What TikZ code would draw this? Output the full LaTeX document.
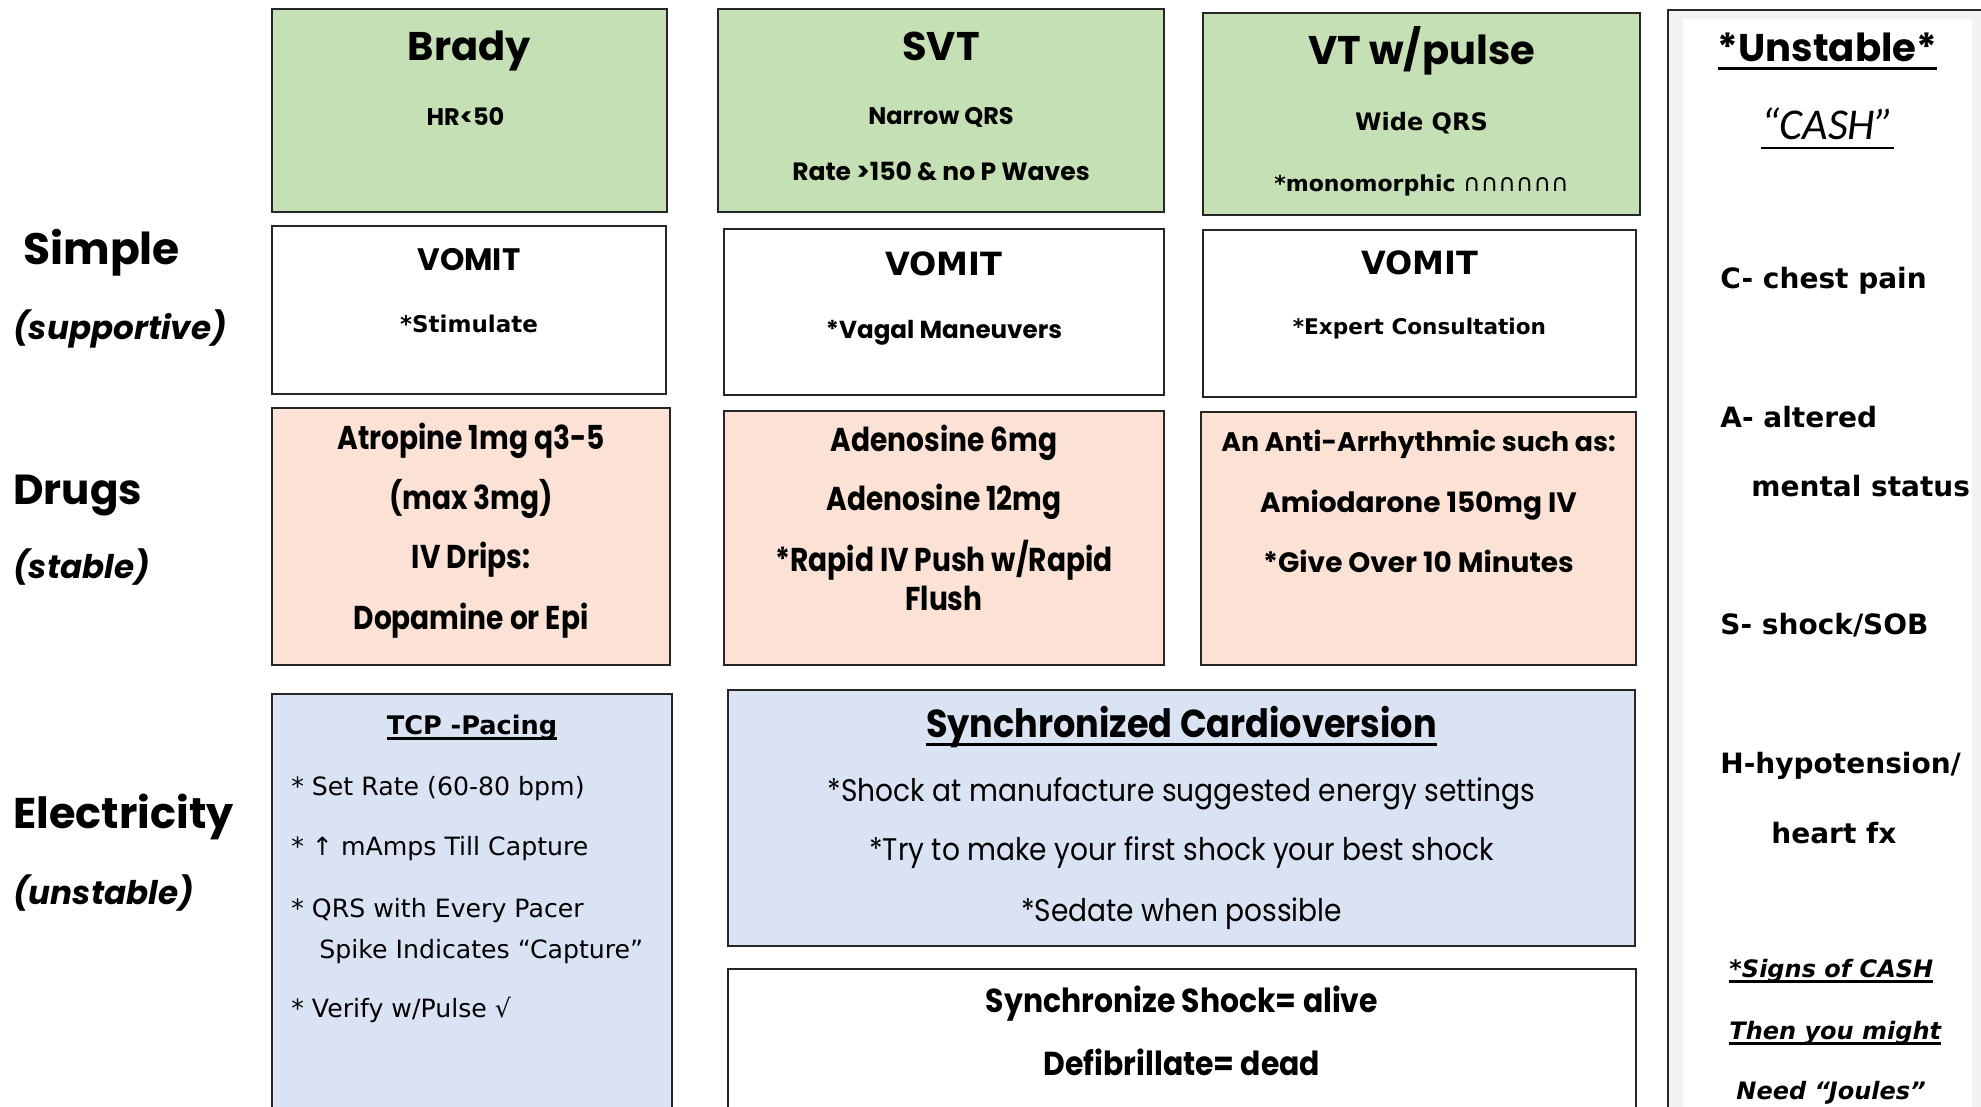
\documentclass[tikz,border=0pt]{standalone}
\usepackage{fontspec}
\usepackage{tikz}
\usetikzlibrary{positioning,fit,calc}
\setmainfont{Poppins}
\newfontfamily\gothic{Poppins}
\newfontfamily\gothicn[FakeStretch=0.85]{Poppins}
\newfontfamily\gothicm[FakeStretch=0.9]{Poppins}
\newfontfamily\comic{DejaVu Sans}
\newfontfamily\calib{Carlito}
\newcommand{\fsz}[1]{\fontsize{#1}{#1}\selectfont}
\newsavebox{\ulbox}
\newcommand{\ulbar}[1]{\sbox{\ulbox}{#1}\rlap{\rule[-0.22em]{\wd\ulbox}{1.3pt}}\usebox{\ulbox}}
\definecolor{rhythm}{RGB}{197,224,180}
\definecolor{drug}{RGB}{251,226,213}
\definecolor{zap}{RGB}{218,227,243}
\definecolor{panel}{RGB}{242,242,242}

\begin{document}
\begin{tikzpicture}[x=0.5pt,y=-0.5pt,
    box/.style={draw=black!85,line width=1pt,inner sep=0pt},
    txt/.style={inner sep=0pt,anchor=mid},
    lbl/.style={inner sep=0pt,anchor=mid west},
    gb/.style={font=\gothic\bfseries\fsz{#1},yshift=-0.22*#1},
    gi/.style={font=\gothic\bfseries\itshape\fsz{#1},yshift=-0.22*#1},
    cb/.style={font=\comic\bfseries\fsz{#1},yshift=-0.22*#1},
    cr/.style={font=\comic\fsz{#1},yshift=-0.22*#1},
    ci/.style={font=\comic\bfseries\itshape\fsz{#1},yshift=-0.22*#1},
    nb/.style={font=\gothicn\bfseries\fsz{#1},yshift=-0.22*#1},
    mb/.style={font=\gothicm\bfseries\fsz{#1},yshift=-0.22*#1},
    mr/.style={font=\gothicm\fsz{#1},yshift=-0.22*#1},
    cash/.style={lbl,cb=14pt}]
  \useasboundingbox (0,0) rectangle (1981,1107);
  \clip (0,0) rectangle (1981,1107);

  % row labels
  \node[lbl,gb=22pt] (simple) at (23,249) {Simple};
  \node[lbl,gi=16.3pt] (simpleS) at (13,327) {(supportive)};
  \node[lbl,gb=21pt] (drugs) at (13,490) {Drugs};
  \node[lbl,gi=16.3pt] (drugsS) at (13,566) {(stable)};
  \node[lbl,gb=21.5pt] (elec) at (13,814) {Electricity};
  \node[lbl,gi=16.3pt] (elecS) at (13,892) {(unstable)};

  % rhythms
  \node[box,fill=rhythm,fit={(272,9) (667,212)}] (brady) {};
  \node[txt,gb=20pt] (bradyT) at ($(brady.north)+(0,38)$) {Brady};
  \node[txt,gb=12pt] (bradyA) at ($(brady.north)+(-4,107)$) {HR<50};

  \node[box,fill=rhythm,fit={(718,9) (1164,212)}] (svt) {};
  \node[txt,gb=20pt] (svtT) at ($(svt.north)+(0,38)$) {SVT};
  \node[txt,gb=12pt] (svtA) at ($(svt.north)+(0,106)$) {Narrow QRS};
  \node[txt,gb=12.5pt] (svtB) at ($(svt.north)+(0,162)$) {Rate >150 \& no P Waves};

  \node[box,fill=rhythm,fit={(1203,13) (1640,215)}] (vt) {};
  \node[txt,gb=20pt] (vtT) at ($(vt.north)+(0,38)$) {VT w/pulse};
  \node[txt,cb=12pt] (vtA) at ($(vt.north)+(0,108)$) {Wide QRS};
  \node[txt,cb=11pt] (vtB) at ($(vt.north)+(0,169)$) {*monomorphic {\mdseries\fsz{12pt}∩∩∩∩∩∩}};

  % simple
  \node[box,fill=white,fit={(272,226) (666,394)}] (vomB) {};
  \node[txt,gb=15.5pt] (vomBT) at ($(vomB.north)+(0,33)$) {VOMIT};
  \node[txt,cb=11.5pt] (vomBA) at ($(vomB.north)+(0,97)$) {*Stimulate};

  \node[box,fill=white,fit={(724,229) (1164,395)}] (vomS) {};
  \node[txt,cb=16pt] (vomST) at ($(vomS.north)+(0,35)$) {VOMIT};
  \node[txt,gb=12.3pt] (vomSA) at ($(vomS.north)+(0,100)$) {*Vagal Maneuvers};

  \node[box,fill=white,fit={(1203,230) (1636,397)}] (vomV) {};
  \node[txt,cb=16pt] (vomVT) at ($(vomV.north)+(0,33)$) {VOMIT};
  \node[txt,cb=10.8pt] (vomVA) at ($(vomV.north)+(0,95)$) {*Expert Consultation};

  % drugs
  \node[box,fill=drug,fit={(272,408) (670,665)}] (atro) {};
  \node[txt,nb=16.5pt] (atroA) at ($(atro.north)+(0,30)$) {Atropine 1mg q3-5};
  \node[txt,nb=16.5pt] (atroB) at ($(atro.north)+(0,90)$) {(max 3mg)};
  \node[txt,nb=16.5pt] (atroC) at ($(atro.north)+(0,149)$) {IV Drips:};
  \node[txt,nb=16.5pt] (atroD) at ($(atro.north)+(0,210)$) {Dopamine or Epi};

  \node[box,fill=drug,fit={(724,411) (1164,665)}] (aden) {};
  \node[txt,nb=16.5pt] (adenA) at ($(aden.north)+(0,29)$) {Adenosine 6mg};
  \node[txt,nb=16.5pt] (adenB) at ($(aden.north)+(0,88)$) {Adenosine 12mg};
  \node[txt,nb=16.5pt] (adenC) at ($(aden.north)+(0,149)$) {*Rapid IV Push w/Rapid};
  \node[txt,nb=16.5pt] (adenD) at ($(aden.north)+(0,188)$) {Flush};

  \node[box,fill=drug,fit={(1201,412) (1636,665)}] (anti) {};
  \node[txt,gb=13.4pt] (antiA) at ($(anti.north)+(0,29)$) {An Anti-Arrhythmic such as:};
  \node[txt,gb=14pt] (antiB) at ($(anti.north)+(0,90)$) {Amiodarone 150mg IV};
  \node[txt,gb=14pt] (antiC) at ($(anti.north)+(0,150)$) {*Give Over 10 Minutes};

  % electricity
  \node[box,fill=zap,fit={(272,694) (672,1120)}] (tcp) {};
  \node[txt,cb=12.8pt] (tcpT) at ($(tcp.north)+(0,30)$) {\ulbar{TCP -Pacing}};
  \node[lbl,cr=12.6pt] (tcpA) at ($(tcp.north west)+(20,91)$) {* Set Rate (60-80 bpm)};
  \node[lbl,cr=12.6pt] (tcpB) at ($(tcp.north west)+(20,151)$) {* ↑ mAmps Till Capture};
  \node[lbl,cr=12.6pt] (tcpC) at ($(tcp.north west)+(20,213)$) {* QRS with Every Pacer};
  \node[lbl,cr=12.6pt] (tcpD) at ($(tcp.north west)+(48,254)$) {Spike Indicates “Capture”};
  \node[lbl,cr=12.6pt] (tcpE) at ($(tcp.north west)+(20,313)$) {* Verify w/Pulse √};

  \node[box,fill=zap,fit={(728,690) (1635,946)}] (sync) {};
  \node[txt,mb=19.5pt] (syncT) at ($(sync.north)+(0,34)$) {\ulbar{Synchronized Cardioversion}};
  \node[txt,mr=15.6pt] (syncA) at ($(sync.north)+(0,100)$) {*Shock at manufacture suggested energy settings};
  \node[txt,mr=15.6pt] (syncB) at ($(sync.north)+(0,159)$) {*Try to make your first shock your best shock};
  \node[txt,mr=15.6pt] (syncC) at ($(sync.north)+(0,220)$) {*Sedate when possible};

  \node[box,fill=white,fit={(728,969) (1636,1120)}] (defib) {};
  \node[txt,mb=16.6pt] (defibA) at ($(defib.north)+(0,32)$) {Synchronize Shock= alive};
  \node[txt,mb=16.6pt] (defibB) at ($(defib.north)+(0,95)$) {Defibrillate= dead};

  % unstable panel
  \node[box,fill=panel,fit={(1668,10) (1995,1120)}] (cashP) {};
  \node[inner sep=0pt,fill=white,fit={(1683,19) (1972,1120)}] (cashW) {};
  \node[txt,gb=19.3pt] (cashT) at ($(cashW.north)+(0,29)$) {\ulbar{*Unstable*}};
  \node[txt,font=\calib\itshape\fsz{22pt},yshift=-4.8pt] (cashA) at ($(cashW.north)+(0,106)$) {\ulbar{“CASH”}};
  \node[cash] (cashC) at ($(cashP.north west)+(53,268)$) {C- chest pain};
  \node[cash] (cashA1) at ($(cashP.north west)+(53,407)$) {A- altered};
  \node[cash] (cashA2) at ($(cashP.north west)+(84,476)$) {mental status};
  \node[cash] (cashS) at ($(cashP.north west)+(53,614)$) {S- shock/SOB};
  \node[cash] (cashH1) at ($(cashP.north west)+(53,753)$) {H-hypotension/};
  \node[cash] (cashH2) at ($(cashP.north west)+(104,823)$) {heart fx};
  \node[lbl,ci=12pt] (signA) at ($(cashP.north west)+(62,958)$) {\ulbar{*Signs of CASH}};
  \node[lbl,ci=12pt] (signB) at ($(cashP.north west)+(62,1020)$) {\ulbar{Then you might}};
  \node[lbl,ci=12pt] (signC) at ($(cashP.north west)+(69,1080)$) {Need “Joules”};
\end{tikzpicture}
\end{document}
